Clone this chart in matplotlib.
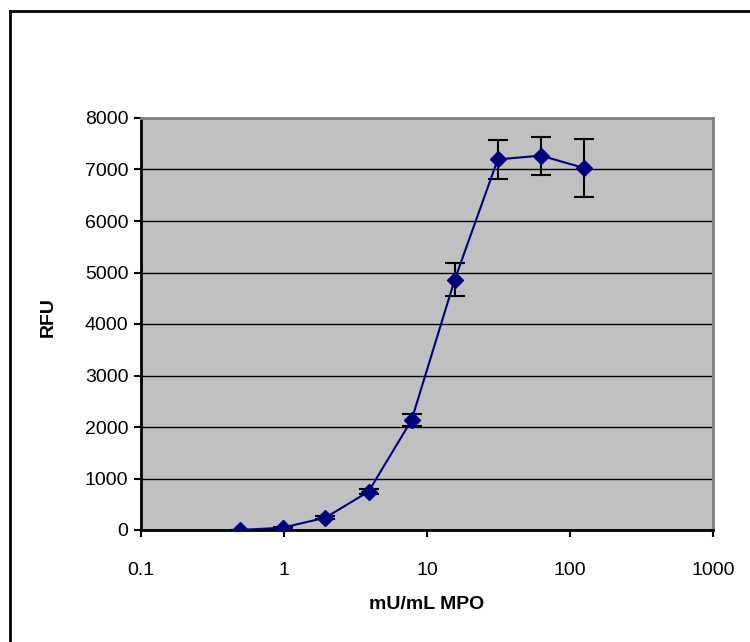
import numpy as np
import matplotlib.pyplot as plt
from matplotlib.lines import Line2D

plt.rcParams['font.family'] = ['Liberation Sans', 'DejaVu Sans']

# MPO concentration (mU/mL) and fluorescence readings
conc = [0.49, 0.98, 1.95, 3.9, 7.8, 15.6, 31.25, 62.5, 125]
rfu = [0, 45, 240, 745, 2135, 4855, 7195, 7270, 7030]
rfu_err = [5, 15, 30, 50, 120, 320, 370, 370, 560]

y_ticks = [0, 1000, 2000, 3000, 4000, 5000, 6000, 7000, 8000]
x_ticks = [0.1, 1, 10, 100, 1000]
x_labels = ['0.1', '1', '10', '100', '1000']

fig = plt.figure(figsize=(7.5, 6.42), dpi=100)
ax = fig.add_axes([141 / 750, 1 - 530 / 642, (713 - 141) / 750, (530 - 118) / 642])
ax.set_facecolor('#C0C0C0')

ax.errorbar(conc, rfu, yerr=rfu_err, fmt='none', ecolor='black',
            elinewidth=1.5, capsize=7, capthick=1.5, zorder=3)
ax.plot(conc, rfu, color='#000080', lw=1.5, marker='D', ms=8.5,
        mfc='#000080', mec='#000080', zorder=4)

ax.set_xscale('log')
ax.set_xlim(0.1, 1000)
ax.set_ylim(0, 8000)
ax.set_xticks(x_ticks)
ax.set_xticklabels(x_labels)
ax.xaxis.set_minor_locator(plt.NullLocator())
ax.set_yticks(y_ticks)
ax.yaxis.grid(True, color='black', lw=1)
ax.set_axisbelow(True)

ax.tick_params(axis='both', direction='out', length=5, width=1.5,
               labelsize=14, colors='black', pad=4)
ax.tick_params(axis='x', pad=18)

for side in ['left', 'bottom']:
    ax.spines[side].set_color('black')
    ax.spines[side].set_linewidth(2)
for side in ['top', 'right']:
    ax.spines[side].set_color('#808080')
    ax.spines[side].set_linewidth(2)

ax.set_xlabel('mU/mL MPO', fontsize=14, fontweight='bold')
ax.set_ylabel('RFU', fontsize=14, fontweight='bold')
ax.xaxis.set_label_coords(0.5, (530 - 596) / 412)
ax.yaxis.set_label_coords((57 - 141) / 572, (530 - 317) / 412)

# chart area border (only top and left visible)
fig.add_artist(Line2D([9.5 / 750, 9.5 / 750], [0, 1 - 11 / 642],
                      transform=fig.transFigure, color='black', lw=2))
fig.add_artist(Line2D([9.5 / 750, 1], [1 - 11 / 642, 1 - 11 / 642],
                      transform=fig.transFigure, color='black', lw=2))

fig.savefig('out.png', dpi=100)
